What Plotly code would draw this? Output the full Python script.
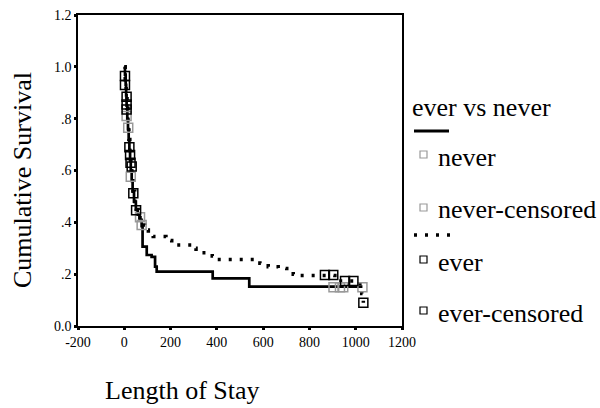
import plotly.graph_objects as go

# ---- data ----
never_t = [0, 3, 6, 8, 10, 13, 16, 19, 22, 25, 28, 32, 36, 42, 50, 58, 66, 75, 79, 97, 118, 133, 140, 382, 540, 1029]
never_s = [1.0, 0.97, 0.93, 0.89, 0.85, 0.80, 0.76, 0.72, 0.68, 0.64, 0.60, 0.56, 0.52, 0.48, 0.45, 0.43, 0.41, 0.385, 0.306, 0.274, 0.267, 0.229, 0.21, 0.184, 0.152, 0.152]

ever_t = [0, 4, 8, 12, 16, 20, 24, 28, 33, 38, 45, 52, 60, 68, 76, 90, 104, 125, 180, 205, 290, 310, 380, 399, 586, 622, 665, 702, 730, 745, 910, 1018, 1026, 1033]
ever_s = [1.0, 0.95, 0.90, 0.84, 0.78, 0.72, 0.67, 0.62, 0.57, 0.52, 0.48, 0.45, 0.43, 0.41, 0.39, 0.37, 0.358, 0.345, 0.33, 0.313, 0.30, 0.283, 0.27, 0.257, 0.242, 0.229, 0.222, 0.21, 0.20, 0.195, 0.174, 0.152, 0.125, 0.09]

never_cens_t = [10, 17, 28, 68, 75, 904, 932, 946, 1029]
never_cens_s = [0.81, 0.765, 0.576, 0.42, 0.39, 0.15, 0.15, 0.15, 0.15]

ever_cens_t = [3, 3, 10, 10, 10, 22, 25, 27, 32, 39, 51, 867, 903, 954, 990, 1033]
ever_cens_s = [0.965, 0.93, 0.885, 0.855, 0.835, 0.69, 0.66, 0.63, 0.615, 0.512, 0.447, 0.197, 0.197, 0.174, 0.174, 0.09]

x_ticks = [-200, 0, 200, 400, 600, 800, 1000, 1200]
y_ticks = [0.0, 0.2, 0.4, 0.6, 0.8, 1.0, 1.2]
y_tick_text = ["0.0", ".2", ".4", ".6", ".8", "1.0", "1.2"]

x_title = "Length of Stay"
y_title = "Cumulative Survival"
legend_title = "ever vs never"
legend_labels = ["never", "never-censored", "ever", "ever-censored"]

FONT = "Liberation Serif, Times New Roman, serif"
GRAY = "#999999"
BIG = 26

fig = go.Figure()
fig.add_trace(go.Scatter(x=never_t, y=never_s, mode="lines", line=dict(color="black", width=2.7, shape="hv"),
                         name="never", showlegend=False))
fig.add_trace(go.Scatter(x=ever_t, y=ever_s, mode="lines", line=dict(color="black", width=3.5, shape="hv", dash="3px,8px"),
                         name="ever", showlegend=False))
fig.add_trace(go.Scatter(x=never_cens_t, y=never_cens_s, mode="markers",
                         marker=dict(symbol="square-open", size=9, color=GRAY, line=dict(width=1.5, color=GRAY)),
                         name="never-censored", showlegend=False))
fig.add_trace(go.Scatter(x=ever_cens_t, y=ever_cens_s, mode="markers",
                         marker=dict(symbol="square-open", size=9, color="black", line=dict(width=1.5, color="black")),
                         name="ever-censored", showlegend=False))

axis_common = dict(showline=True, linecolor="black", linewidth=1.5, mirror=True, showgrid=False, zeroline=False,
                   ticks="outside", ticklen=2, tickwidth=3, tickcolor="black", automargin=False,
                   tickfont=dict(family=FONT, size=14, color="black"))
fig.update_xaxes(range=[-200, 1200], tickvals=x_ticks, ticktext=[str(v) for v in x_ticks], **axis_common)
fig.update_yaxes(range=[0, 1.2], tickvals=y_ticks, ticktext=y_tick_text, **axis_common)

W, H = 600, 408
L, R, T, B = 78, 198, 15, 82
pw, ph = W - L - R, H - T - B


def px(xp):
    return (xp - L) / pw


def py(yp):
    return (H - B - yp) / ph


def text_ann(text, x, y, xanchor="center", angle=0):
    return dict(text=text, x=px(x), y=py(y), xref="paper", yref="paper", xanchor=xanchor, yanchor="middle",
                showarrow=False, textangle=angle, font=dict(family=FONT, size=BIG, color="black"))


annotations = [
    text_ann(x_title, 182, 390),
    text_ann(y_title, 22, 180, angle=-90),
    text_ann(legend_title, 410, 107, xanchor="left"),
]
legend_rows = [(legend_labels[0], 157, GRAY), (legend_labels[1], 210, GRAY),
               (legend_labels[2], 262, "black"), (legend_labels[3], 313, "black")]
for label, yy, col in legend_rows:
    annotations.append(text_ann(label, 436, yy, xanchor="left"))

shapes = [
    dict(type="line", xref="paper", yref="paper", x0=px(414), x1=px(449), y0=py(131), y1=py(131),
         line=dict(color="black", width=3)),
    dict(type="line", xref="paper", yref="paper", x0=px(414), x1=px(452), y0=py(235), y1=py(235),
         line=dict(color="black", width=3.5, dash="3px,8px")),
]
for label, yy, col in legend_rows:
    shapes.append(dict(type="rect", xref="paper", yref="paper", x0=px(420), x1=px(427), y0=py(yy - 6), y1=py(yy + 1),
                       line=dict(color=col, width=1.2), fillcolor="white"))

fig.update_layout(width=W, height=H, margin=dict(l=L, r=R, t=T, b=B), plot_bgcolor="white", paper_bgcolor="white",
                  annotations=annotations, shapes=shapes, showlegend=False)
fig.write_html("out.html")
